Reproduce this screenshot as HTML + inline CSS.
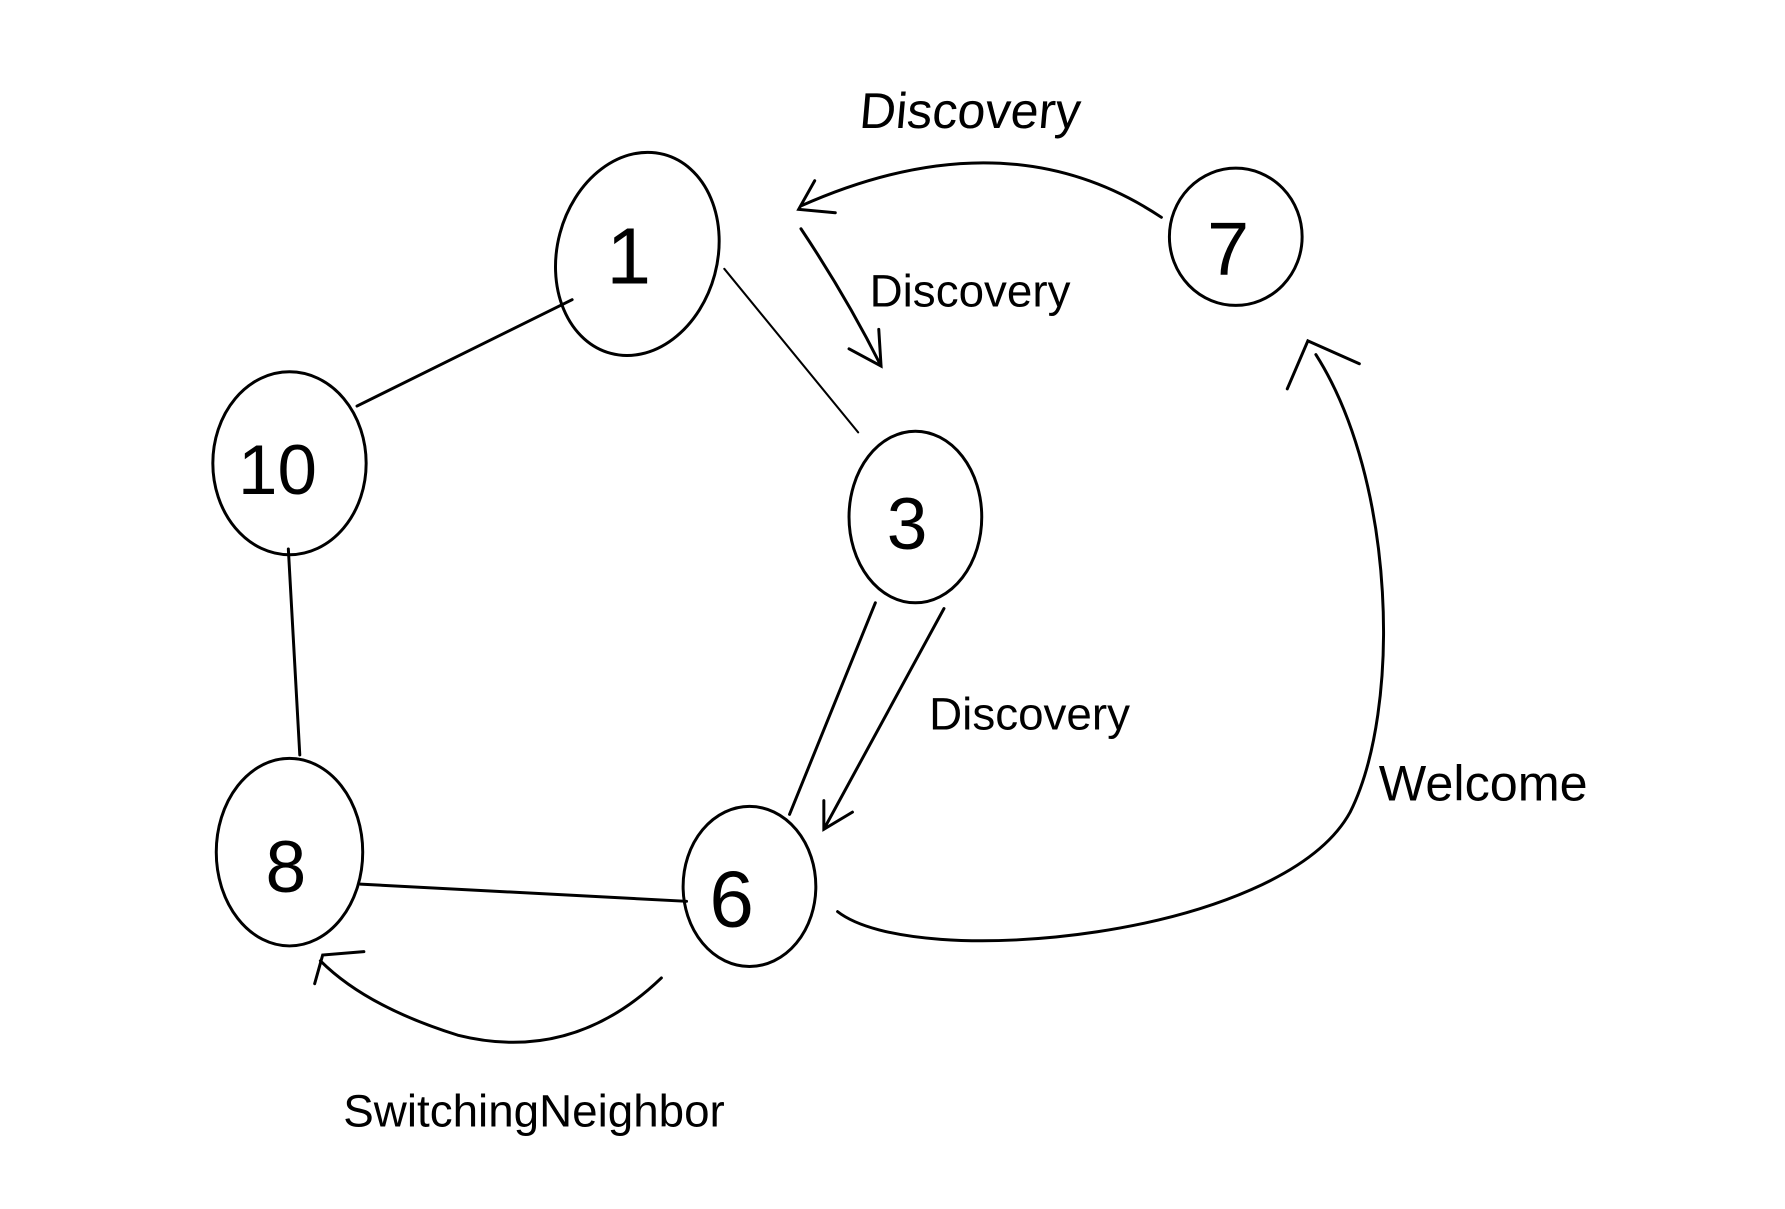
<!DOCTYPE html>
<html><head><style>html,body{margin:0;padding:0;background:#fff}svg{display:block}</style></head>
<body>
<svg width="1785" height="1209" viewBox="0 0 1560 1057" preserveAspectRatio="none" xmlns="http://www.w3.org/2000/svg">
<g fill="none" stroke="#000" stroke-width="2.6" stroke-linecap="round">
<ellipse cx="557" cy="222" rx="70" ry="90" transform="rotate(15 557 222)"/>
<ellipse cx="253" cy="405" rx="67" ry="80"/>
<ellipse cx="800" cy="452" rx="58" ry="75"/>
<ellipse cx="253" cy="745" rx="64" ry="82"/>
<ellipse cx="655" cy="775" rx="58" ry="70"/>
<ellipse cx="1080" cy="207" rx="58" ry="60"/>
<path d="M312 355 L500 262"/>
<path d="M633 235 L750 378" stroke-width="1.8"/>
<path d="M252 480 L262 660"/>
<path d="M315 773 L600 788"/>
<path d="M765 527 L690 712"/>
<path d="M1015 190 Q880 100 700 180 M712 158 L698 183 L730 186"/>
<path d="M700 200 Q740 260 770 320 M742 305 L770 320 L768 288"/>
<path d="M825 532 L720 725 M720 700 L720 725 L745 710"/>
<path d="M732 797 C800 850 1120 820 1180 710 C1225 620 1220 420 1150 310 M1125 340 L1143 298 L1188 318"/>
<path d="M578 855 Q500 930 400 905 Q320 880 280 840 M275 860 L282 835 L318 832"/>
</g>
<g font-family="Liberation Sans, sans-serif" fill="#000">
<text x="530" y="248" font-size="70">1</text>
<text x="208" y="432" font-size="62">10</text>
<text x="775" y="480" font-size="64">3</text>
<text x="232" y="780" font-size="64">8</text>
<text x="620" y="810" font-size="70">6</text>
<text x="1055" y="240" font-size="66">7</text>
<text x="760" y="112" font-size="44" transform="skewX(-5)">Discovery</text>
<text x="760" y="268" font-size="40">Discovery</text>
<text x="812" y="638" font-size="40">Discovery</text>
<text x="1205" y="700" font-size="44">Welcome</text>
<text x="300" y="985" font-size="40">SwitchingNeighbor</text>
</g>
</svg>
</body></html>
